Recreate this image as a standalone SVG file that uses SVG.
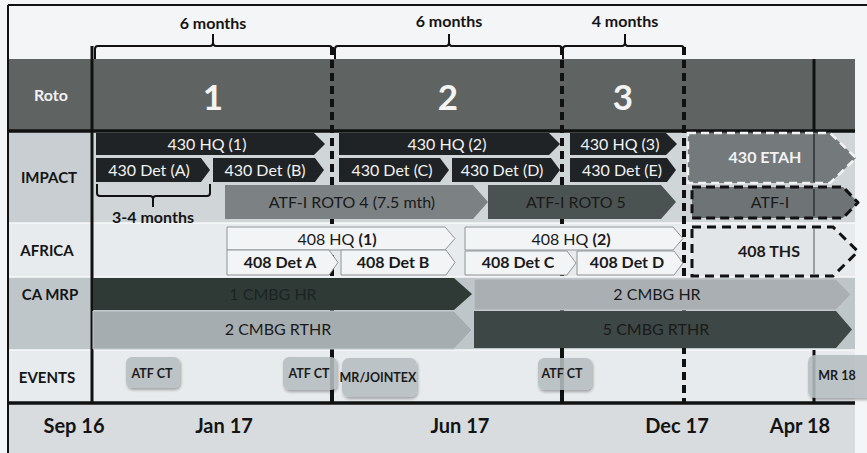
<svg xmlns="http://www.w3.org/2000/svg" width="867" height="453" viewBox="0 0 867 453">
<defs>
<style>
text{font-family:Lato,"Liberation Sans",sans-serif;text-anchor:middle}
.b{font-weight:bold}
.lbl{font-size:15px;font-weight:bold;fill:#141414}
.hd{font-size:16px;font-weight:bold;fill:#141414}
.wt{fill:#f2f2f2;font-size:16px}
.dk{fill:#1a1a1a;font-size:16px}
.dark{fill:#1f2325}
.light{fill:#f3f4f5;stroke:#8e9497;stroke-width:1}
.ev{fill:#b7bec1;opacity:0.88;filter:url(#sh)}
.evt{font-size:12.5px;font-weight:bold;fill:#1a1a1a}
.date{font-size:20px;font-weight:bold;fill:#141414}
.vd{stroke:#111;stroke-width:4;stroke-dasharray:8 5;fill:none}
.brk{stroke:#111;stroke-width:2;fill:none}
</style>
<filter id="sh" x="-20%" y="-20%" width="140%" height="140%">
<feGaussianBlur in="SourceAlpha" stdDeviation="1.5"/>
<feOffset dx="1" dy="1.5" result="o"/>
<feComponentTransfer><feFuncA type="linear" slope="0.35"/></feComponentTransfer>
<feMerge><feMergeNode/><feMergeNode in="SourceGraphic"/></feMerge>
</filter>
</defs>

<g id="background">
<rect x="0" y="0" width="867" height="453" fill="#f4f5f6"/>
<rect x="9" y="59" width="846" height="72" fill="#5f6463"/>
<rect x="9" y="131" width="846" height="92" fill="#d0d5d8"/>
<rect x="9" y="131" width="83" height="92" fill="#c8ced1"/>
<rect x="9" y="223" width="846" height="54" fill="#e8ebed"/>
<rect x="9" y="277" width="846" height="73" fill="#bfc6c9"/>
<rect x="9" y="350" width="846" height="53" fill="#e8ebed"/>
<rect x="9" y="403" width="846" height="50" fill="#d8dcdf"/>
<line x1="9" y1="223" x2="855" y2="223" stroke="#f7f8f9" stroke-width="1.5"/>
<line x1="9" y1="277" x2="855" y2="277" stroke="#f7f8f9" stroke-width="1.5"/>
<line x1="9" y1="350" x2="855" y2="350" stroke="#f7f8f9" stroke-width="1.5"/>
<line x1="8" y1="5" x2="867" y2="5" stroke="#111" stroke-width="2"/>
<line x1="8" y1="5" x2="8" y2="453" stroke="#111" stroke-width="2"/>
</g>

<g id="connectors">
<line x1="92" y1="46" x2="92" y2="403" stroke="#111" stroke-width="3"/>
<line class="vd" x1="332" y1="47" x2="332" y2="350"/>
<line x1="332" y1="350" x2="332" y2="403" stroke="#111" stroke-width="4"/>
<line class="vd" x1="562" y1="47" x2="562" y2="350"/>
<line x1="562" y1="350" x2="562" y2="403" stroke="#111" stroke-width="4"/>
<line class="vd" x1="684" y1="47" x2="684" y2="403"/>
<line x1="814" y1="59" x2="814" y2="131" stroke="#111" stroke-width="3"/>
<line x1="814" y1="350" x2="814" y2="403" stroke="#111" stroke-width="3"/>
<line x1="9" y1="131" x2="855" y2="131" stroke="#111" stroke-width="3.5"/>
<line x1="9" y1="403" x2="855" y2="403" stroke="#111" stroke-width="3.5"/>
<path class="brk" d="M95 59 V49 Q95 46 98 46 H210 Q213 46 213 42 Q213 46 216 46 H329 Q332 46 332 49"/>
<line class="brk" x1="213" y1="46" x2="213" y2="34" stroke-width="2.5"/>
<path class="brk" d="M335 59 V49 Q335 46 338 46 H446 Q449 46 449 42 Q449 46 452 46 H559 Q562 46 562 49"/>
<line class="brk" x1="449" y1="46" x2="449" y2="34" stroke-width="2.5"/>
<path class="brk" d="M563 59 V49 Q563 46 566 46 H622 Q625 46 625 42 Q625 46 628 46 H681 Q684 46 684 49"/>
<line class="brk" x1="625" y1="46" x2="625" y2="34" stroke-width="2.5"/>
<path class="brk" d="M97 184 V193 Q97 196 100 196 H150 Q153 196 153 199 Q153 196 156 196 H207 Q210 196 210 193 V184"/>
<line class="brk" x1="153" y1="196" x2="153" y2="207" stroke-width="2.5"/>
</g>

<g id="header-labels">
<text class="hd" x="213" y="29">6 months</text>
<text class="hd" x="449" y="27">6 months</text>
<text class="hd" x="625" y="27">4 months</text>
<text class="hd" x="153" y="223">3-4 months</text>
</g>

<g id="row-labels">
<text class="lbl" x="51" y="101" style="fill:#f2f2f2;font-size:16px">Roto</text>
<text class="lbl" x="49" y="183">IMPACT</text>
<text class="lbl" x="47" y="256">AFRICA</text>
<text class="lbl" x="50" y="300">CA MRP</text>
<text class="lbl" x="47" y="383">EVENTS</text>
</g>

<g id="roto1"><text x="213" y="110" style="font-size:35px;font-weight:bold;fill:#f4f4f4">1</text></g>
<g id="roto2"><text x="448" y="110" style="font-size:35px;font-weight:bold;fill:#f4f4f4">2</text></g>
<g id="roto3"><text x="623" y="110" style="font-size:35px;font-weight:bold;fill:#f4f4f4">3</text></g>

<g id="hq1"><polygon class="dark" points="96,133 314,133 325,144 314,155 96,155"/><text class="wt" x="207" y="149.5">430 HQ (1)</text></g>
<g id="detA"><polygon class="dark" points="96,158 201,158 210,170 201,182 96,182"/><text class="wt" x="149" y="175.5">430 Det (A)</text></g>
<g id="detB"><polygon class="dark" points="213,158 315,158 324,170 315,182 213,182"/><text class="wt" x="265" y="175.5">430 Det (B)</text></g>
<g id="hq2"><polygon class="dark" points="339,133 549,133 560,144 549,155 339,155"/><text class="wt" x="447" y="149.5">430 HQ (2)</text></g>
<g id="detC"><polygon class="dark" points="339,158 440,158 449,170 440,182 339,182"/><text class="wt" x="392" y="175.5">430 Det (C)</text></g>
<g id="detD"><polygon class="dark" points="452,158 551,158 560,170 551,182 452,182"/><text class="wt" x="502" y="175.5">430 Det (D)</text></g>
<g id="hq3"><polygon class="dark" points="570,133 666,133 677,144 666,155 570,155"/><text class="wt" x="620" y="149.5">430 HQ (3)</text></g>
<g id="detE"><polygon class="dark" points="570,158 667,158 676,170 667,182 570,182"/><text class="wt" x="622" y="175.5">430 Det (E)</text></g>
<g id="etah"><polygon points="688,133 830,133 856,158 830,183 688,183" fill="#74797c" stroke="#f2f2f2" stroke-width="2.5" stroke-dasharray="8 5"/><line x1="814" y1="134" x2="814" y2="182" stroke="#3c4143" stroke-width="2"/><text class="wt" x="765" y="163" style="font-weight:bold">430 ETAH</text></g>
<g id="roto4"><polygon points="225,185 473,185 488,202 473,219 225,219" fill="#7c8184"/><text class="dk" x="352" y="208">ATF-I ROTO 4 (7.5 mth)</text></g>
<g id="roto5"><polygon points="488,185 661,185 676,202 661,219 488,219" fill="#4b5352"/><text class="dk" x="576" y="208">ATF-I ROTO 5</text></g>
<g id="atfi"><polygon points="692,187 843,187 858,202.5 843,218 692,218" fill="#6e7476" stroke="#111" stroke-width="3" stroke-dasharray="9 5" stroke-linejoin="round"/><line x1="814" y1="189" x2="814" y2="216" stroke="#3c4143" stroke-width="2"/><text class="dk" x="770" y="208">ATF-I</text></g>

<g id="hq408-1"><polygon class="light" points="227,227 445,227 455,238.5 445,250 227,250"/><text class="dk" x="337" y="245">408 HQ <tspan class="b">(1)</tspan></text></g>
<g id="det408A"><polygon class="light" points="227,250 329,250 338,262.5 329,275 227,275"/><text class="dk b" x="280" y="268">408 Det A</text></g>
<g id="det408B"><polygon class="light" points="341,250 446,250 455,262.5 446,275 341,275"/><text class="dk b" x="393" y="268">408 Det B</text></g>
<g id="hq408-2"><polygon class="light" points="465,227 673,227 683,238.5 673,250 465,250"/><text class="dk" x="571" y="245">408 HQ <tspan class="b">(2)</tspan></text></g>
<g id="det408C"><polygon class="light" points="465,251 567,251 576,263 567,275 465,275"/><text class="dk b" x="518" y="268">408 Det C</text></g>
<g id="det408D"><polygon class="light" points="577,251 674,251 683,263 674,275 577,275"/><text class="dk b" x="627" y="268">408 Det D</text></g>
<g id="ths"><polygon points="692,227 833,227 858,251.5 833,276 692,276" fill="#e3e6e8" stroke="#111" stroke-width="3" stroke-dasharray="9 6"/><line x1="814" y1="229" x2="814" y2="274" stroke="#9aa0a3" stroke-width="2"/><text class="dk b" x="769" y="257">408 THS</text></g>

<g id="cmbg1hr"><polygon points="93,278 454,278 472,294 454,310 93,310" fill="#2f3a37"/><text class="dk" x="273" y="300" style="fill:#1b2422">1 CMBG HR</text></g>
<g id="cmbg2rthr"><polygon points="93,311 454,311 472,330 454,349 93,349" fill="#a6adb0" stroke="#c4cacd" stroke-width="1"/><text class="dk" x="278" y="335">2 CMBG RTHR</text></g>
<g id="cmbg2hr"><polygon points="474,279 836,279 851,294.5 836,310 474,310" fill="#a9afb2" stroke="#c6cbce" stroke-width="1"/><text class="dk" x="657" y="300">2 CMBG HR</text></g>
<g id="cmbg5rthr"><polygon points="474,311 836,311 852,329.5 836,348 474,348" fill="#3d4745"/><text class="dk" x="656" y="335">5 CMBG RTHR</text></g>

<g id="ev1"><rect class="ev" x="126" y="357" width="54" height="31" rx="6"/><text class="evt" x="152" y="378">ATF CT</text></g>
<g id="ev2"><rect class="ev" x="283" y="357" width="54" height="33" rx="6"/><text class="evt" x="309" y="378">ATF CT</text></g>
<g id="ev3"><rect class="ev" x="342" y="358" width="75" height="39" rx="7"/><text class="evt" x="378" y="382">MR/JOINTEX</text></g>
<g id="ev4"><rect class="ev" x="538" y="358" width="54" height="32" rx="6"/><text class="evt" x="562" y="378">ATF CT</text></g>
<g id="ev5"><rect class="ev" x="808" y="355" width="64" height="43" rx="7"/><text class="evt" x="837" y="380">MR 18</text></g>

<g id="dates">
<text class="date" x="74" y="433">Sep 16</text>
<text class="date" x="224" y="433">Jan 17</text>
<text class="date" x="460" y="433">Jun 17</text>
<text class="date" x="677" y="433">Dec 17</text>
<text class="date" x="800" y="433">Apr 18</text>
</g>
</svg>
